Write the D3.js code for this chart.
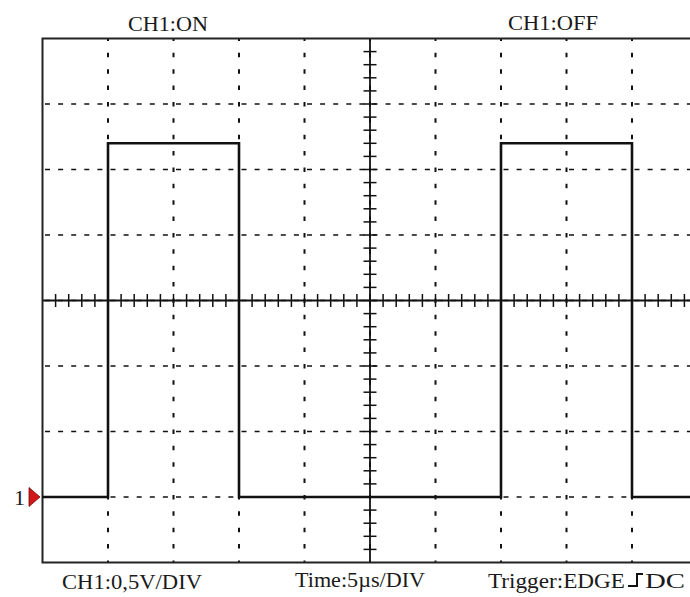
<!DOCTYPE html>
<html>
<head>
<meta charset="utf-8">
<script src="https://cdn.jsdelivr.net/npm/d3@7"></script>
<style>
  html, body { margin: 0; padding: 0; background: #fff; }
  svg { display: block; }
  text { font-family: "Liberation Serif", "DejaVu Serif", serif; fill: #1a1a1a; }
</style>
</head>
<body>
<svg id="scope" width="690" height="597"></svg>
<script>
"use strict";

// data
const gridTimes = [0, 5, 10, 15, 20, 25, 30, 35, 40, 45, 50];          // us, one per division
const gridVolts = [-0.5, 0, 0.5, 1, 1.5, 2, 2.5, 3, 3.5];              // V, one per division
const sigTime   = [0, 5, 5, 15, 15, 35, 35, 45, 45, 50];                // us
const sigVolt   = [0, 0, 2.7, 2.7, 0, 0, 2.7, 2.7, 0, 0];               // V
const topLabels = ["CH1:ON", "CH1:OFF"];
const bottomLabels = ["CH1:0,5V/DIV", "Time:5\u00b5s/DIV", "Trigger:EDGE", "DC"];
const groundLevel = 0;



// setting
const setting = {
    left: 42.5, right: 697.5, top: 38.5, bottom: 562.5,
    centerTime: 25, centerVolt: 1.5,
    minorTime: 1, minorVolt: 0.1,
    tickHalf: 6.5
};

const svg = d3.select("#scope");



// scales
let scaleX = d3.scaleLinear().domain([0, 50]).range([setting.left, setting.right]);
let scaleY = d3.scaleLinear().domain([-0.5, 3.5]).range([setting.bottom, setting.top]);

const plot = svg.append("g");



// dashed grid, horizontal
plot.selectAll("line.hgrid")
.data(gridVolts.slice(1, -1))
.enter()
.append("line")
.attr("class", "hgrid")
.attr("x1", setting.left).attr("x2", setting.right)
.attr("y1", d => scaleY(d)).attr("y2", d => scaleY(d))
.attr("stroke", "#111")
.attr("stroke-width", 1.6)
.attr("stroke-dasharray", "5 8.1")
.attr("stroke-dashoffset", -2.5);



// dashed grid, vertical
plot.selectAll("line.vgrid")
.data(gridTimes.slice(1))
.enter()
.append("line")
.attr("class", "vgrid")
.attr("y1", setting.top).attr("y2", setting.bottom)
.attr("x1", d => scaleX(d)).attr("x2", d => scaleX(d))
.attr("stroke", "#111")
.attr("stroke-width", 2)
.attr("stroke-dasharray", "4.5 11.875")
.attr("stroke-dashoffset", 2.1);



// centre crosshair with minor ticks
const cx = scaleX(setting.centerTime), cy = scaleY(setting.centerVolt);
plot.append("line")
.attr("x1", setting.left).attr("x2", setting.right)
.attr("y1", cy).attr("y2", cy)
.attr("stroke", "#111").attr("stroke-width", 1.8);
plot.append("line")
.attr("x1", cx).attr("x2", cx)
.attr("y1", setting.top).attr("y2", setting.bottom)
.attr("stroke", "#111").attr("stroke-width", 1.8);

plot.selectAll("line.xtick")
.data(scaleX.ticks(50).filter(t => t > 0))
.enter()
.append("line")
.attr("class", "xtick")
.attr("x1", d => scaleX(d)).attr("x2", d => scaleX(d))
.attr("y1", cy - setting.tickHalf).attr("y2", cy + setting.tickHalf)
.attr("stroke", "#111").attr("stroke-width", 1.5);

plot.selectAll("line.ytick")
.data(d3.range(1, 40).map(i => -0.5 + i * setting.minorVolt))
.enter()
.append("line")
.attr("class", "ytick")
.attr("y1", d => scaleY(d)).attr("y2", d => scaleY(d))
.attr("x1", cx - setting.tickHalf).attr("x2", cx + setting.tickHalf)
.attr("stroke", "#111").attr("stroke-width", 1.5);



// border (left, top, bottom)
plot.append("path")
.attr("d", `M${setting.right},${setting.top} H${setting.left} V${setting.bottom} H${setting.right}`)
.attr("fill", "none")
.attr("stroke", "#222")
.attr("stroke-width", 2);



// signal trace
let line = d3.line()
.x((d, i) => scaleX(sigTime[i]))
.y(d => scaleY(d));

plot.append("path")
.datum(sigVolt)
.attr("d", line)
.attr("fill", "none")
.attr("stroke", "#111")
.attr("stroke-width", 2.6)
.attr("stroke-linejoin", "miter");



// channel marker
const gy = scaleY(groundLevel);
svg.append("path")
.attr("d", `M29,${gy - 9.5} L40,${gy} L29,${gy + 9.5} Z`)
.attr("fill", "#d01818")
.attr("stroke", "#7a0a0a")
.attr("stroke-width", 0.8);
svg.append("text")
.attr("x", 14).attr("y", gy + 8)
.attr("font-size", 22)
.text("1");



// labels
const labelFont = 21.5;
const topPos = [[128, 31, 80], [508, 30, 90]];
svg.selectAll("text.top")
.data(topLabels)
.enter()
.append("text")
.attr("class", "top")
.attr("x", (d, i) => topPos[i][0])
.attr("y", (d, i) => topPos[i][1])
.attr("textLength", (d, i) => topPos[i][2])
.attr("lengthAdjust", "spacingAndGlyphs")
.attr("font-size", labelFont)
.text(d => d);

const bottomPos = [[62, 589, 140], [295, 587, 130], [488, 588, 137], [645, 588, 40]];
svg.selectAll("text.bottom")
.data(bottomLabels)
.enter()
.append("text")
.attr("class", "bottom")
.attr("x", (d, i) => bottomPos[i][0])
.attr("y", (d, i) => bottomPos[i][1])
.attr("textLength", (d, i) => bottomPos[i][2])
.attr("lengthAdjust", "spacingAndGlyphs")
.attr("font-size", labelFont)
.text(d => d);

// rising edge glyph
svg.append("path")
.attr("d", "M628,586 H637 V574 H643")
.attr("fill", "none")
.attr("stroke", "#111")
.attr("stroke-width", 2);
</script>
</body>
</html>
